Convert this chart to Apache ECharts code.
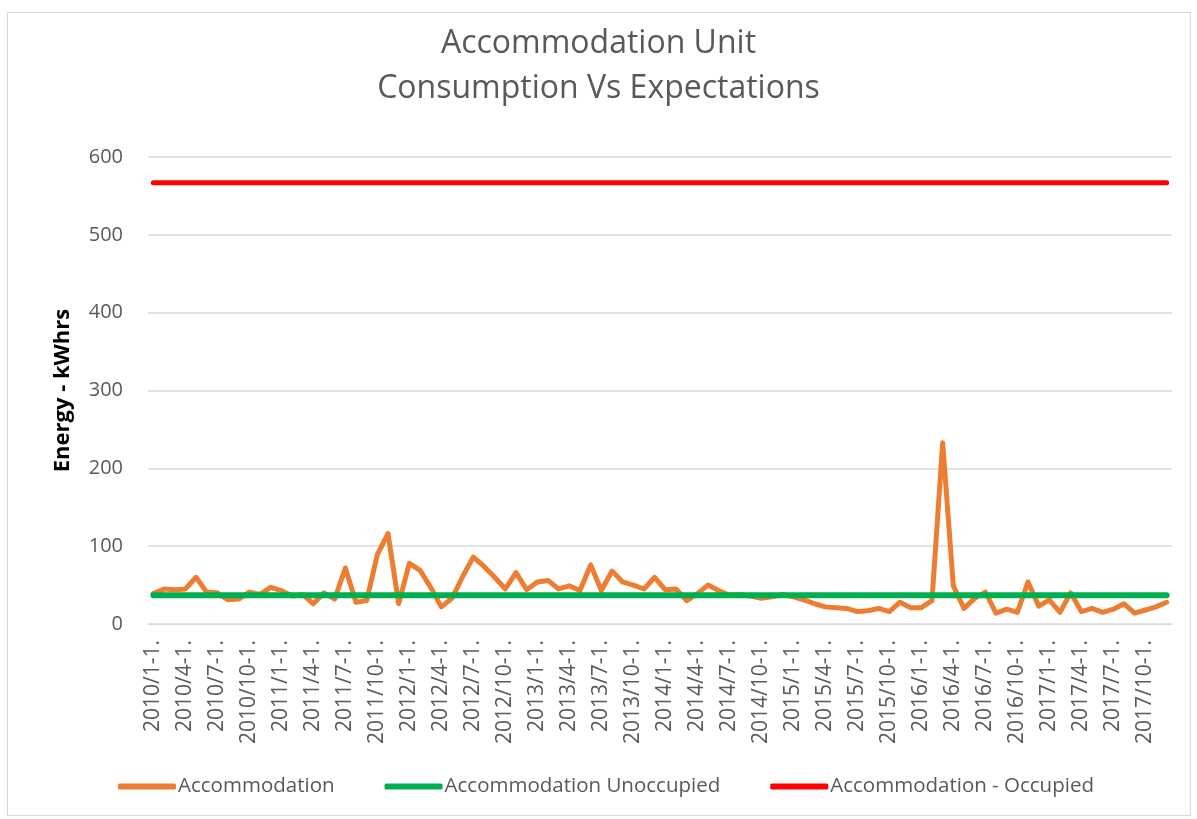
<!DOCTYPE html>
<html>
<head>
<meta charset="utf-8">
<script src="https://cdn.jsdelivr.net/npm/echarts@6/dist/echarts.min.js"></script>
<style>
  html, body { margin: 0; padding: 0; background: #fff; }
  #frame { position: absolute; left: 7px; top: 12px; width: 1182px; height: 802px; border: 1px solid #d9d9d9; }
  #chart { position: absolute; left: 0; top: 0; width: 1197px; height: 819px; }
</style>
</head>
<body>
<div id="frame"></div>
<div id="chart"></div>
<script>
// monthly categories 2010/1 .. 2017/12
const years = [2010, 2011, 2012, 2013, 2014, 2015, 2016, 2017];
const months = [1, 2, 3, 4, 5, 6, 7, 8, 9, 10, 11, 12];
const categories = [];
years.forEach(y => months.forEach(m => categories.push(y + '/' + m + '-1.')));

// metered consumption, kWhrs
const accommodation = [
  39, 45, 44, 45, 60, 41, 40, 31, 32, 41, 38, 47,
  43, 36, 38, 26, 40, 32, 72, 28, 30, 89, 116, 26,
  78, 69, 47, 22, 33, 61, 86, 74, 60, 45, 66, 44,
  54, 56, 45, 49, 43, 76, 43, 68, 54, 50, 45, 60,
  44, 45, 30, 39, 50, 43, 37, 38, 36, 33, 35, 38,
  35, 31, 26, 22, 21, 20, 16, 17, 20, 16, 28, 21,
  21, 30, 233, 49, 20, 33, 41, 14, 19, 15, 54, 23,
  31, 15, 40, 16, 20, 15, 19, 26, 14, 18, 22, 28
];
const unoccupiedLevel = 37;
const occupiedLevel = 567;

const unoccupied = categories.map(() => unoccupiedLevel);
const occupied = categories.map(() => occupiedLevel);

const chart = echarts.init(document.getElementById('chart'));
const font = '"Open Sans", "Liberation Sans", sans-serif';

const option = {
  animation: false,
  title: {
    text: 'Accommodation Unit\nConsumption Vs Expectations',
    left: 'center',
    top: 16,
    textStyle: { fontFamily: font, fontSize: 32, fontWeight: 'normal', color: '#595959', lineHeight: 45 }
  },
  grid: { left: 148, right: 25, top: 157, bottom: 195 },
  legend: {
    bottom: 17,
    left: 113,
    itemGap: 50,
    itemWidth: 58,
    itemHeight: 6,
    icon: 'roundRect',
    textStyle: { fontFamily: font, fontSize: 20.5, color: '#595959', padding: [0, 0, 0, -3] },
    data: ['Accommodation', 'Accommodation Unoccupied', 'Accommodation - Occupied']
  },
  xAxis: {
    type: 'category',
    data: categories,
    boundaryGap: true,
    axisLine: { show: true, lineStyle: { color: '#d9d9d9', width: 1 } },
    axisTick: { show: false },
    axisLabel: {
      interval: 2,
      rotate: 90,
      fontFamily: font,
      fontSize: 21,
      color: '#595959',
      margin: 16
    }
  },
  yAxis: {
    type: 'value',
    min: 0,
    max: 600,
    interval: 100,
    name: 'Energy - kWhrs',
    nameLocation: 'middle',
    nameGap: 74,
    nameTextStyle: { fontFamily: font, fontSize: 22, fontWeight: 'bold', color: '#000' },
    axisLine: { show: false },
    axisTick: { show: false },
    axisLabel: { fontFamily: font, fontSize: 20, color: '#595959', margin: 25 },
    splitLine: { lineStyle: { color: '#d9d9d9', width: 1.5 } }
  },
  series: [
    {
      name: 'Accommodation',
      type: 'line',
      data: accommodation,
      symbol: 'none',
      color: '#ED7D31',
      lineStyle: { width: 5, color: '#ED7D31', cap: 'round', join: 'round' },
      z: 3
    },
    {
      name: 'Accommodation Unoccupied',
      type: 'line',
      data: unoccupied,
      symbol: 'none',
      color: '#00B050',
      lineStyle: { width: 6, color: '#00B050', cap: 'round' },
      z: 4
    },
    {
      name: 'Accommodation - Occupied',
      type: 'line',
      data: occupied,
      symbol: 'none',
      color: '#FF0000',
      lineStyle: { width: 5, color: '#FF0000', cap: 'round' },
      z: 4
    }
  ]
};

chart.setOption(option);
</script>
</body>
</html>
